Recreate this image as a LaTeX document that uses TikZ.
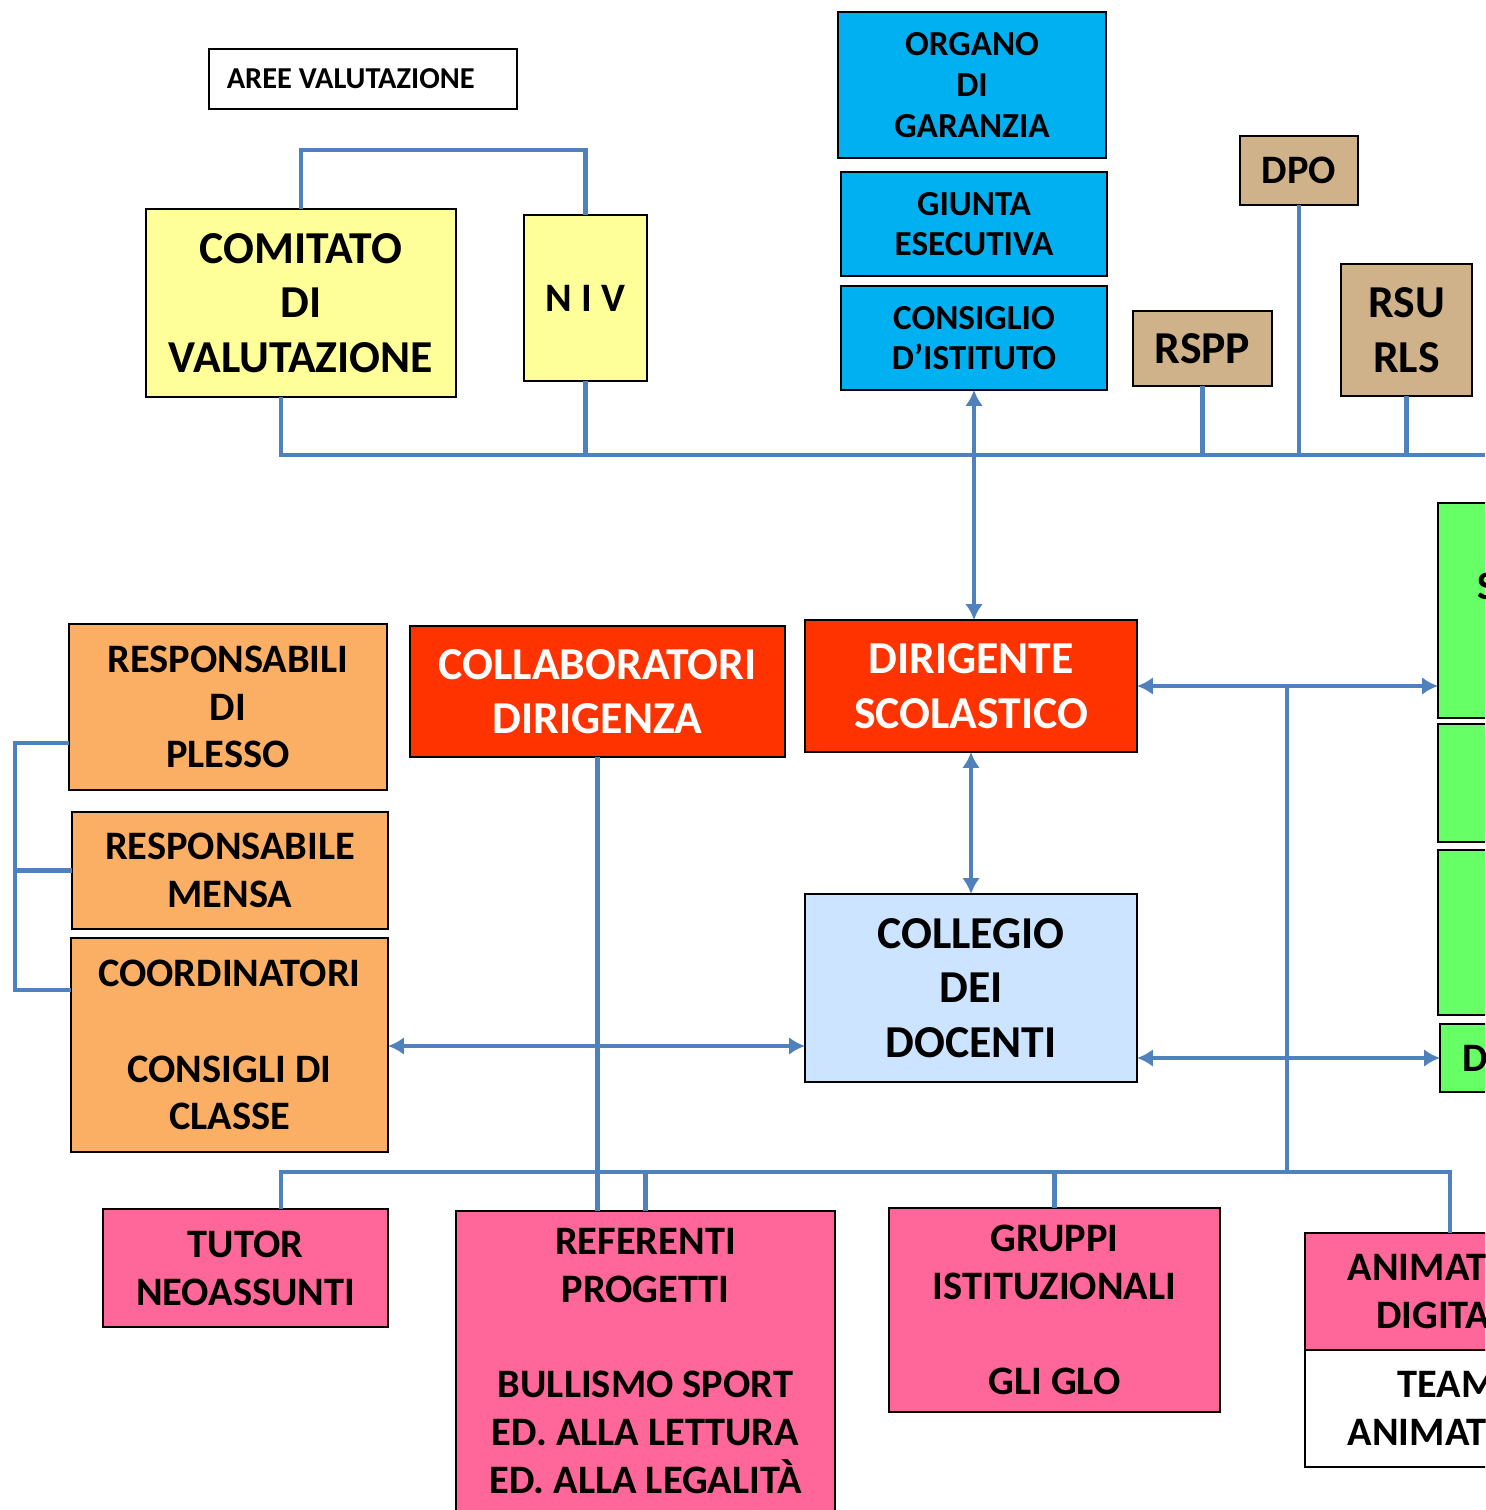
\documentclass[tikz,border=0pt]{standalone}
\usepackage{fontspec}
\setmainfont{Carlito}
\usetikzlibrary{arrows.meta}

\definecolor{linkblue}{RGB}{79,129,189}
\definecolor{yellowfill}{RGB}{255,255,153}
\definecolor{cyanfill}{RGB}{0,176,240}
\definecolor{tanfill}{RGB}{208,178,138}
\definecolor{redfill}{RGB}{255,51,0}
\definecolor{orangefill}{RGB}{251,175,100}
\definecolor{paleblue}{RGB}{204,228,255}
\definecolor{greenfill}{RGB}{102,255,102}
\definecolor{pinkfill}{RGB}{255,102,153}

\begin{document}
\begin{tikzpicture}[x=0.02cm, y=-0.02cm,
    box/.style={draw, line width=1.1pt, align=center, inner sep=0pt, outer sep=0pt},
    boxsize/.style 2 args={minimum width=#1*0.02cm, minimum height=#2*0.02cm},
    tiny/.style={font=\bfseries\fontsize{17.3}{20}\selectfont},
    small/.style={font=\bfseries\fontsize{20}{23.2}\selectfont},
    mid/.style={font=\bfseries\fontsize{23}{27.2}\selectfont},
    big/.style={font=\bfseries\fontsize{26}{31}\selectfont},
    link/.style={draw=linkblue, line width=2.8pt},
    both/.style={link, {Latex[length=9pt,width=10pt]}-{Latex[length=9pt,width=10pt]}}]

    \useasboundingbox (0,0) rectangle (1485,1510);
    \clip (0,0) rectangle (1485,1510);
    \fill[white] (0,0) rectangle (1485,1510);

    % evaluation area
    \node[box, fill=white, boxsize={308}{60}, tiny] (aree) at (363,79) {AREE VALUTAZIONE\hspace*{14pt}};
    \node[box, fill=yellowfill, boxsize={310}{188}, big] (comitato) at (301,303) {COMITATO\\DI\\VALUTAZIONE};
    \node[box, fill=yellowfill, boxsize={123}{166}, mid] (niv) at (585.5,298) {N I V};

    % collegial bodies
    \node[box, fill=cyanfill, boxsize={268}{146}, small] (organo) at (972,85) {ORGANO\\DI\\GARANZIA};
    \node[box, fill=cyanfill, boxsize={266}{104}, small] (giunta) at (974,224) {GIUNTA\\ESECUTIVA};
    \node[box, fill=cyanfill, boxsize={266}{104}, small] (consiglio) at (974,338) {CONSIGLIO\\D’ISTITUTO};

    % safety and privacy
    \node[box, fill=tanfill, boxsize={118}{69}, mid] (dpo) at (1299,170.5) {DPO};
    \node[box, fill=tanfill, boxsize={139}{75}, big] (rspp) at (1202.5,348.5) {RSPP};
    \node[box, fill=tanfill, boxsize={131}{132}, big] (rsu) at (1406.5,330) {RSU\\RLS};

    % head of school
    \node[box, fill=redfill, text=white, boxsize={332}{132}, big] (dirigente) at (971,686) {DIRIGENTE\\SCOLASTICO};
    \node[box, fill=redfill, text=white, boxsize={375}{131}, big] (collab) at (597.5,691.5) {COLLABORATORI\\DIRIGENZA};

    % plesso staff
    \node[box, fill=orangefill, boxsize={318}{166}, mid] (plesso) at (228,707) {RESPONSABILI\\DI\\PLESSO};
    \node[box, fill=orangefill, boxsize={316}{117}, mid] (mensa) at (230,870.5) {RESPONSABILE\\MENSA};
    \node[box, fill=orangefill, boxsize={317}{214}, mid] (coord) at (229.5,1045) {COORDINATORI\\[27.2pt]CONSIGLI DI\\CLASSE};

    \node[box, fill=paleblue, boxsize={332}{188}, big] (collegio) at (971,988) {COLLEGIO\\DEI\\DOCENTI};

    % green column on the right
    \node[box, fill=greenfill, boxsize={162}{215}] (gtop) at (1519,610.5) {};
    \node[box, fill=greenfill, boxsize={162}{118}] (gmid) at (1519,783) {};
    \node[box, fill=greenfill, boxsize={162}{165}] (glow) at (1519,932.5) {};
    \node[box, fill=greenfill, boxsize={160}{68}] (gd) at (1520,1058) {};
    \node[mid, anchor=west, inner sep=0pt] (gtopS) at (1477,586) {S};
    \node[mid, anchor=west, inner sep=0pt] (gdD) at (1462,1058) {D};

    % bottom row
    \node[box, fill=pinkfill, boxsize={285}{118}, mid] (tutor) at (245.5,1268) {TUTOR\\NEOASSUNTI};
    \node[box, fill=pinkfill, boxsize={379}{300}, mid] (refer) at (645.5,1361) {REFERENTI\\PROGETTI\\[27.2pt]BULLISMO SPORT\\ED. ALLA LETTURA\\ED. ALLA LEGALITÀ};
    \node[box, fill=pinkfill, boxsize={331}{204}, mid] (gruppi) at (1054.5,1310) {GRUPPI\\ISTITUZIONALI\\[27.2pt]GLI GLO};
    \node[box, fill=pinkfill, boxsize={284}{117}, mid] (anim) at (1447,1291.5) {ANIMATORI\\DIGITALI};
    \node[box, fill=white, boxsize={284}{117}, mid] (team) at (1447,1408.5) {TEAM\\ANIMATORI};

    % bus lines
    \coordinate (tbL) at (281,455);
    \coordinate (tbR) at (1485,455);
    \coordinate (bbL) at (281,1172);
    \coordinate (bbR) at (1450,1172);
    \coordinate (vj) at (1287,686);
    \coordinate (brT) at (15,743);
    \coordinate (brB) at (15,990);

    % upper connections
    \draw[link] (comitato.north) -- ++(0,-59) -| (niv.north);
    \draw[link] (tbL |- comitato.south) -- (tbL) -- (tbR);
    \draw[link] (niv.south) -- (niv.south |- tbL);
    \draw[link] (rspp.south) -- (rspp.south |- tbL);
    \draw[link] (dpo.south) -- (dpo.south |- tbL);
    \draw[link] (rsu.south) -- (rsu.south |- tbL);
    \draw[both] (consiglio.south) -- (consiglio.south |- dirigente.north);

    % middle connections
    \draw[both] (dirigente.south) -- (collegio.north);
    \draw[both] (dirigente.east) -- (dirigente.east -| gtop.west);
    \draw[both] (coord.east |- 0,1046) -- (collegio.west |- 0,1046);
    \draw[both] (collegio.east |- gd.west) -- (gd.west);
    \draw[link] (plesso.west |- brT) -- (brT) -- (brB) -- (coord.west |- brB);
    \draw[link] (mensa.west) -- (mensa.west -| brT);

    % lower connections
    \draw[link] (vj) -- (vj |- bbL);
    \draw[link] (bbL |- tutor.north) -- (bbL) -- (bbR) -- (bbR |- anim.north);
    \draw[link] (collab.south) -- (collab.south |- refer.north);
    \draw[link] (refer.north) -- (refer.north |- bbL);
    \draw[link] (gruppi.north) -- (gruppi.north |- bbL);
\end{tikzpicture}
\end{document}
